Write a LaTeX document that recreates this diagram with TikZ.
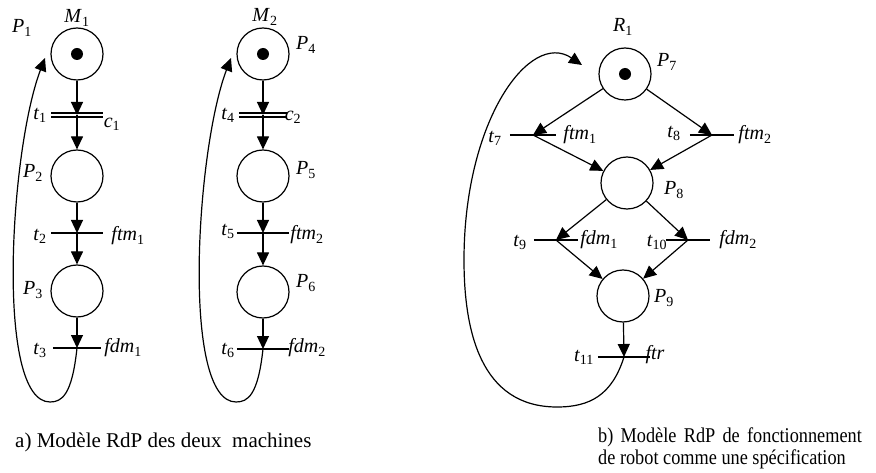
\documentclass[tikz,border=0pt]{standalone}
\usepackage{fontspec}
\usepackage{graphicx}
\setmainfont{Liberation Serif}
\usetikzlibrary{arrows.meta}
\newcommand\lbl[2]{\textit{#1}\textsubscript{#2}}
\begin{document}
\begin{tikzpicture}[x=1pt,y=-1pt,
  place/.style={circle,draw,line width=1.2pt,minimum size=52pt,inner sep=0pt},
  trans/.style={minimum width=48pt,minimum height=0pt,inner sep=0pt},
  barline/.style={line width=1.2pt},
  arr/.style={line width=1.2pt,-{Triangle[length=13pt,width=12pt]}},
  looparr/.style={line width=1.2pt,-{Triangle[length=13pt,width=12pt]}},
  lab/.style={font=\fontsize{20}{23}\selectfont,inner sep=0pt},
  captxt/.style={font=\fontsize{21}{24}\selectfont,inner sep=0pt,anchor=base west},
  captxtb/.style={font=\fontsize{21}{24}\selectfont,inner sep=0pt,anchor=base west}]
\useasboundingbox (0,0) rectangle (876,473);

% ---------- Machine 1 ----------
\node[place] (P1) at (77,54) {};
\fill (P1.center) circle (6pt);
\node[trans,minimum width=51pt] (t1) at (77,115) {};
\node[place] (P2) at (77,176) {};
\node[trans,minimum width=51pt] (t2) at (77,233) {};
\node[place] (P3) at (77,291) {};
\node[trans] (t3) at (77,348) {};
\coordinate (e1) at (45,58);

\draw[barline] ([yshift=2pt]t1.west) -- ([yshift=2pt]t1.east);
\draw[barline] ([yshift=-2pt]t1.west) -- ([yshift=-2pt]t1.east);
\draw[barline] (t2.west) -- (t2.east);
\draw[barline] (t3.west) -- (t3.east);

\draw[arr] (P1) -- (t1.center);
\draw[arr] (t1.center) -- (P2);
\draw[arr] (P2) -- (t2.center);
\draw[arr] (t2.center) -- (P3);
\draw[arr] (P3) -- (t3.center);
\draw[looparr] (t3.center) .. controls (72,395) and (62,402) .. (50,402)
  .. controls (-5,402) and (10,150) .. (e1);

\node[lab] (lM1) at (77,18) {\lbl{M}{1}};
\node[lab] (lP1) at (22,28) {\lbl{P}{1}};
\node[lab] (lt1) at (40,115) {\lbl{t}{1}};
\node[lab] (lc1) at (112,124) {\lbl{c}{1}};
\node[lab] (lP2) at (33,173) {\lbl{P}{2}};
\node[lab] (lt2) at (40,236) {\lbl{t}{2}};
\node[lab] (lf1) at (128,236) {\lbl{ftm}{1}};
\node[lab] (lP3) at (33,290) {\lbl{P}{3}};
\node[lab] (lt3) at (40,350) {\lbl{t}{3}};
\node[lab] (ld1) at (123,348) {\lbl{fdm}{1}};

% ---------- Machine 2 ----------
\begin{scope}[xshift=186pt]
\node[place] (P4) at (77,54) {};
\fill (P4.center) circle (6pt);
\node[trans] (t4) at (77,115) {};
\node[place] (P5) at (77,176) {};
\node[trans,minimum width=52pt] (t5) at (77,233) {};
\node[place] (P6) at (77,292) {};
\node[trans,minimum width=52pt] (t6) at (77,349) {};
\coordinate (e2) at (45,58);

\draw[barline] ([yshift=2pt]t4.west) -- ([yshift=2pt]t4.east);
\draw[barline] ([yshift=-2pt]t4.west) -- ([yshift=-2pt]t4.east);
\draw[barline] (t5.west) -- (t5.east);
\draw[barline] (t6.west) -- (t6.east);

\draw[arr] (P4) -- (t4.center);
\draw[arr] (t4.center) -- (P5);
\draw[arr] (P5) -- (t5.center);
\draw[arr] (t5.center) -- (P6);
\draw[arr] (P6) -- (t6.center);
\draw[looparr] (t6.center) .. controls (72,395) and (62,402) .. (50,402)
  .. controls (-5,402) and (10,150) .. (e2);

\node[lab] (lM2) at (79,17) {\lbl{M}{2}};
\node[lab] (lP4) at (120,45) {\lbl{P}{4}};
\node[lab] (lt4) at (42,115) {\lbl{t}{4}};
\node[lab] (lc2) at (107,117) {\lbl{c}{2}};
\node[lab] (lP5) at (120,170) {\lbl{P}{5}};
\node[lab] (lt5) at (42,231) {\lbl{t}{5}};
\node[lab] (lf2) at (121,235) {\lbl{ftm}{2}};
\node[lab] (lP6) at (120,283) {\lbl{P}{6}};
\node[lab] (lt6) at (42,350) {\lbl{t}{6}};
\node[lab] (ld2) at (121,348) {\lbl{fdm}{2}};
\end{scope}

% ---------- Robot ----------
\node[place] (P7) at (625,74) {};
\fill (P7.center) circle (6pt);
\node[trans,minimum width=46pt] (t7) at (533,135) {};
\node[trans,minimum width=44pt] (t8) at (712,135) {};
\node[place] (P8) at (627,183) {};
\node[trans,minimum width=44pt] (t9) at (556,240) {};
\node[trans,minimum width=44pt] (t10) at (688,240) {};
\node[place] (P9) at (623,296) {};
\node[trans,minimum width=52pt] (t11) at (624,357) {};
\coordinate (e3) at (582,65);

\draw[barline] (t7.west) -- (t7.east);
\draw[barline] (t8.west) -- (t8.east);
\draw[barline] (t9.west) -- (t9.east);
\draw[barline] (t10.west) -- (t10.east);
\draw[barline] (t11.west) -- (t11.east);

\draw[arr] (P7) -- (t7.center);
\draw[arr] (P7) -- (t8.center);
\draw[arr] (t7.center) -- (P8);
\draw[arr] (t8.center) -- (P8);
\draw[arr] (P8) -- (t9.center);
\draw[arr] (P8) -- (t10.center);
\draw[arr] (t9.center) -- (P9);
\draw[arr] (t10.center) -- (P9);
\draw[arr] (P9) -- (t11.center);
\draw[looparr] (t11.center) .. controls (612,395) and (590,407) .. (557,407)
  .. controls (480,407) and (464,330) .. (464,260)
  .. controls (464,120) and (530,30) .. (e3);

\node[lab] (lR1) at (623,27) {\lbl{R}{1}};
\node[lab] (lP7) at (667,62) {\lbl{P}{7}};
\node[lab] (lt7) at (495,138) {\lbl{t}{7}};
\node[lab] (lf7) at (580,135) {\lbl{ftm}{1}};
\node[lab] (lt8) at (674,133) {\lbl{t}{8}};
\node[lab] (lf8) at (755,135) {\lbl{ftm}{2}};
\node[lab] (lP8) at (674,190) {\lbl{P}{8}};
\node[lab] (lt9) at (520,242) {\lbl{t}{9}};
\node[lab] (ld9) at (599,240) {\lbl{fdm}{1}};
\node[lab] (lt10) at (657,242) {\lbl{t}{10}};
\node[lab] (ld10) at (738,240) {\lbl{fdm}{2}};
\node[lab] (lP9) at (664,298) {\lbl{P}{9}};
\node[lab] (lt11) at (584,357) {\lbl{t}{11}};
\node[lab] (lftr) at (655,355) {\textit{ftr}};

% ---------- Captions ----------
\node[captxt] (capa) at (15,447) {a) Modèle RdP des deux\ \ machines};
\node[captxtb] (capb1) at (598,442) {\scalebox{0.87}[1]{\makebox[303pt][s]{b) Modèle RdP de fonctionnement}}};
\node[captxtb] (capb2) at (598,464) {\scalebox{0.87}[1]{de robot comme une spécification}};
\end{tikzpicture}
\end{document}
